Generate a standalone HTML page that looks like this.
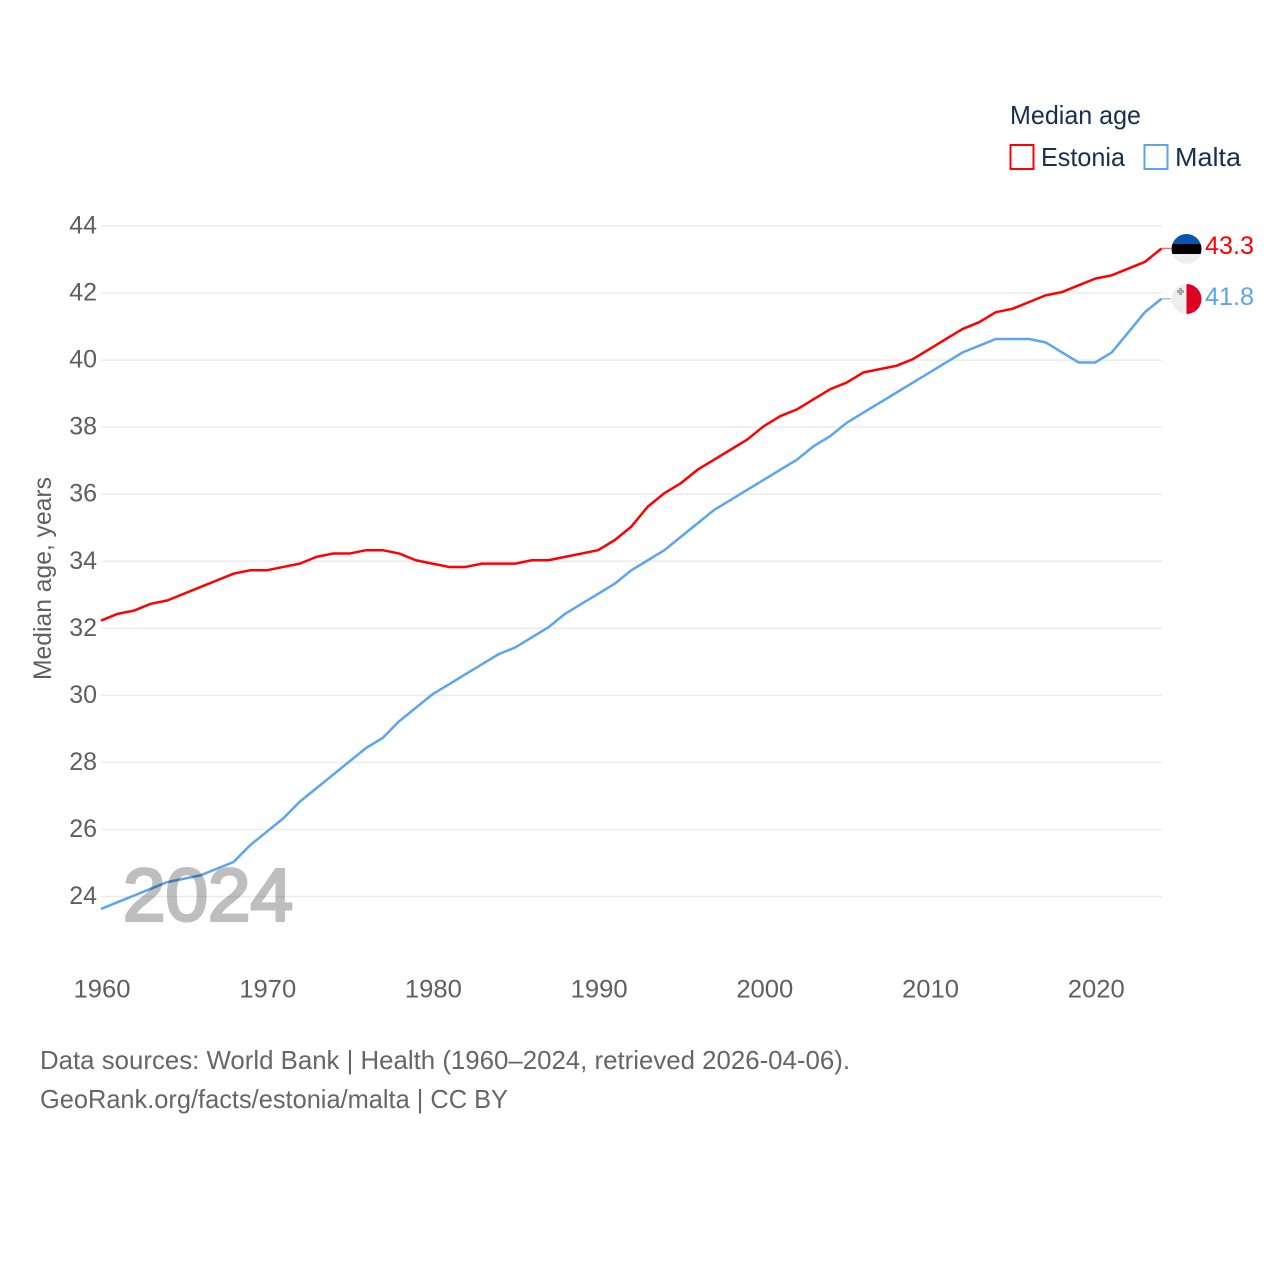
<!DOCTYPE html>
<html>
<head>
<meta charset="utf-8">
<style>
html,body{margin:0;padding:0;background:#fff;}
svg{display:block;}
text{font-family:"Liberation Sans",sans-serif;}
</style>
</head>
<body>
<svg id="chart" width="1280" height="1280" viewBox="0 0 1280 1280" xmlns="http://www.w3.org/2000/svg">
  <defs>
    <clipPath id="clip-ee"><circle cx="1186.5" cy="249" r="15"/></clipPath>
    <clipPath id="clip-mt"><circle cx="1186.5" cy="299" r="15"/></clipPath>
  </defs>
  <rect width="1280" height="1280" fill="#fff"/>
  <g id="grid"></g>
  <g id="yticks"></g>
  <g id="xticks"></g>
  <text transform="translate(51,680) rotate(-90)" font-size="25" fill="#5f5f5f" textLength="203" lengthAdjust="spacingAndGlyphs">Median age, years</text>
  <g id="series" transform="translate(0,-1)"></g>
  <text x="123" y="920.5" font-size="74" fill="#000" stroke="#000" stroke-width="3" opacity="0.25" textLength="170" lengthAdjust="spacingAndGlyphs">2024</text>

  <g>
    <text x="1010" y="124" font-size="26" fill="#18304f" textLength="131" lengthAdjust="spacingAndGlyphs">Median age</text>
    <rect x="1010.5" y="145" width="23" height="24" fill="none" stroke="#ff0000" stroke-width="2"/>
    <text x="1041" y="166" font-size="26" fill="#18304f" textLength="84" lengthAdjust="spacingAndGlyphs">Estonia</text>
    <rect x="1144.5" y="145" width="23" height="24" fill="none" stroke="#5ba5ee" stroke-width="2"/>
    <text x="1175" y="166" font-size="26" fill="#18304f" textLength="66" lengthAdjust="spacingAndGlyphs">Malta</text>
  </g>

  <g clip-path="url(#clip-ee)">
    <rect x="1171" y="234" width="31" height="10" fill="#0a56ae"/>
    <rect x="1171" y="244" width="31" height="10" fill="#000"/>
    <rect x="1171" y="254" width="31" height="10" fill="#eeeeee"/>
  </g>
  <g clip-path="url(#clip-mt)">
    <rect x="1171" y="284" width="15.5" height="30" fill="#eeeeee"/>
    <rect x="1186.5" y="284" width="15.5" height="30" fill="#dc0025"/>
    <path d="M1179 288h3v2h2v3h-2v2h-3v-2h-2v-3h2z" fill="#a8a8a8"/>
  </g>
  <text x="1205" y="254" font-size="25" fill="#ff0000" textLength="49" lengthAdjust="spacingAndGlyphs">43.3</text>
  <text x="1205" y="305" font-size="25" fill="#5ba5ee" textLength="49" lengthAdjust="spacingAndGlyphs">41.8</text>

  <text x="40" y="1069" font-size="26" fill="#666" textLength="810" lengthAdjust="spacingAndGlyphs">Data sources: World Bank | Health (1960–2024, retrieved 2026-04-06).</text>
  <text x="40" y="1108" font-size="26" fill="#666" textLength="468" lengthAdjust="spacingAndGlyphs">GeoRank.org/facts/estonia/malta | CC BY</text>
</svg>
<script>
const startYear = 1960;
const yTickValues = [24, 26, 28, 30, 32, 34, 36, 38, 40, 42, 44];
const xTickValues = [1960, 1970, 1980, 1990, 2000, 2010, 2020];
const estoniaValues = [32.2,32.4,32.5,32.7,32.8,33.0,33.2,33.4,33.6,33.7,33.7,33.8,33.9,34.1,34.2,34.2,34.3,34.3,34.2,34.0,33.9,33.8,33.8,33.9,33.9,33.9,34.0,34.0,34.1,34.2,34.3,34.6,35.0,35.6,36.0,36.3,36.7,37.0,37.3,37.6,38.0,38.3,38.5,38.8,39.1,39.3,39.6,39.7,39.8,40.0,40.3,40.6,40.9,41.1,41.4,41.5,41.7,41.9,42.0,42.2,42.4,42.5,42.7,42.9,43.3];
const maltaValues = [23.6,23.8,24.0,24.2,24.4,24.5,24.6,24.8,25.0,25.5,25.9,26.3,26.8,27.2,27.6,28.0,28.4,28.7,29.2,29.6,30.0,30.3,30.6,30.9,31.2,31.4,31.7,32.0,32.4,32.7,33.0,33.3,33.7,34.0,34.3,34.7,35.1,35.5,35.8,36.1,36.4,36.7,37.0,37.4,37.7,38.1,38.4,38.7,39.0,39.3,39.6,39.9,40.2,40.4,40.6,40.6,40.6,40.5,40.2,39.9,39.9,40.2,40.8,41.4,41.8];

const NS = 'http://www.w3.org/2000/svg';
function xScale(year) { return 101 + (year - 1960) * (1161.5 - 101) / 64; }
function yScale(v) { return 896.5 - (v - 24) * (896.5 - 226) / 20; }

const grid = document.getElementById('grid');
const yticks = document.getElementById('yticks');
const xticks = document.getElementById('xticks');
const seriesGroup = document.getElementById('series');

yTickValues.forEach(function (v) {
  const line = document.createElementNS(NS, 'line');
  
  
  line.setAttribute('x1', 101);
  line.setAttribute('x2', 1162);
  line.setAttribute('y1', yScale(v));
  line.setAttribute('y2', yScale(v));
  line.setAttribute('stroke', '#ebebeb');
  line.setAttribute('stroke-width', '1.5');
  grid.appendChild(line);

  const label = document.createElementNS(NS, 'text');
  
  
  label.setAttribute('x', 97);
  label.setAttribute('y', yScale(v) + 7.5);
  label.setAttribute('text-anchor', 'end');
  label.setAttribute('font-size', '25');
  label.setAttribute('fill', '#5f5f5f');
  label.textContent = v;
  yticks.appendChild(label);
});

xTickValues.forEach(function (year) {
  const label = document.createElementNS(NS, 'text');
  
  
  label.setAttribute('x', xScale(year) + 1);
  label.setAttribute('y', 997.5);
  label.setAttribute('text-anchor', 'middle');
  label.setAttribute('font-size', '25');
  label.setAttribute('fill', '#5f5f5f');
  label.setAttribute('textLength', '57');
  label.setAttribute('lengthAdjust', 'spacingAndGlyphs');
  label.textContent = year;
  xticks.appendChild(label);
});

function drawSeries(values, color, name) {
  const pts = values.map(function (v, i) {
    return xScale(startYear + i).toFixed(2) + ',' + yScale(v).toFixed(2);
  });
  const last = values[values.length - 1];
  const path = document.createElementNS(NS, 'path');
  
  
  path.setAttribute('d', 'M' + pts.join('L'));
  path.setAttribute('fill', 'none');
  path.setAttribute('stroke', color);
  path.setAttribute('stroke-width', '2.5');
  path.setAttribute('stroke-linejoin', 'round');
  seriesGroup.appendChild(path);

  const stub = document.createElementNS(NS, 'line');
  
  
  stub.setAttribute('x1', xScale(startYear + values.length - 1));
  stub.setAttribute('x2', 1171);
  stub.setAttribute('y1', yScale(last));
  stub.setAttribute('y2', yScale(last));
  stub.setAttribute('stroke', color);
  stub.setAttribute('stroke-width', '1.5');
  stub.setAttribute('stroke-opacity', '0.6');
  seriesGroup.appendChild(stub);
}
drawSeries(estoniaValues, '#ff0000', 'estonia');
drawSeries(maltaValues, '#5ba5ee', 'malta');
</script>
</body>
</html>
